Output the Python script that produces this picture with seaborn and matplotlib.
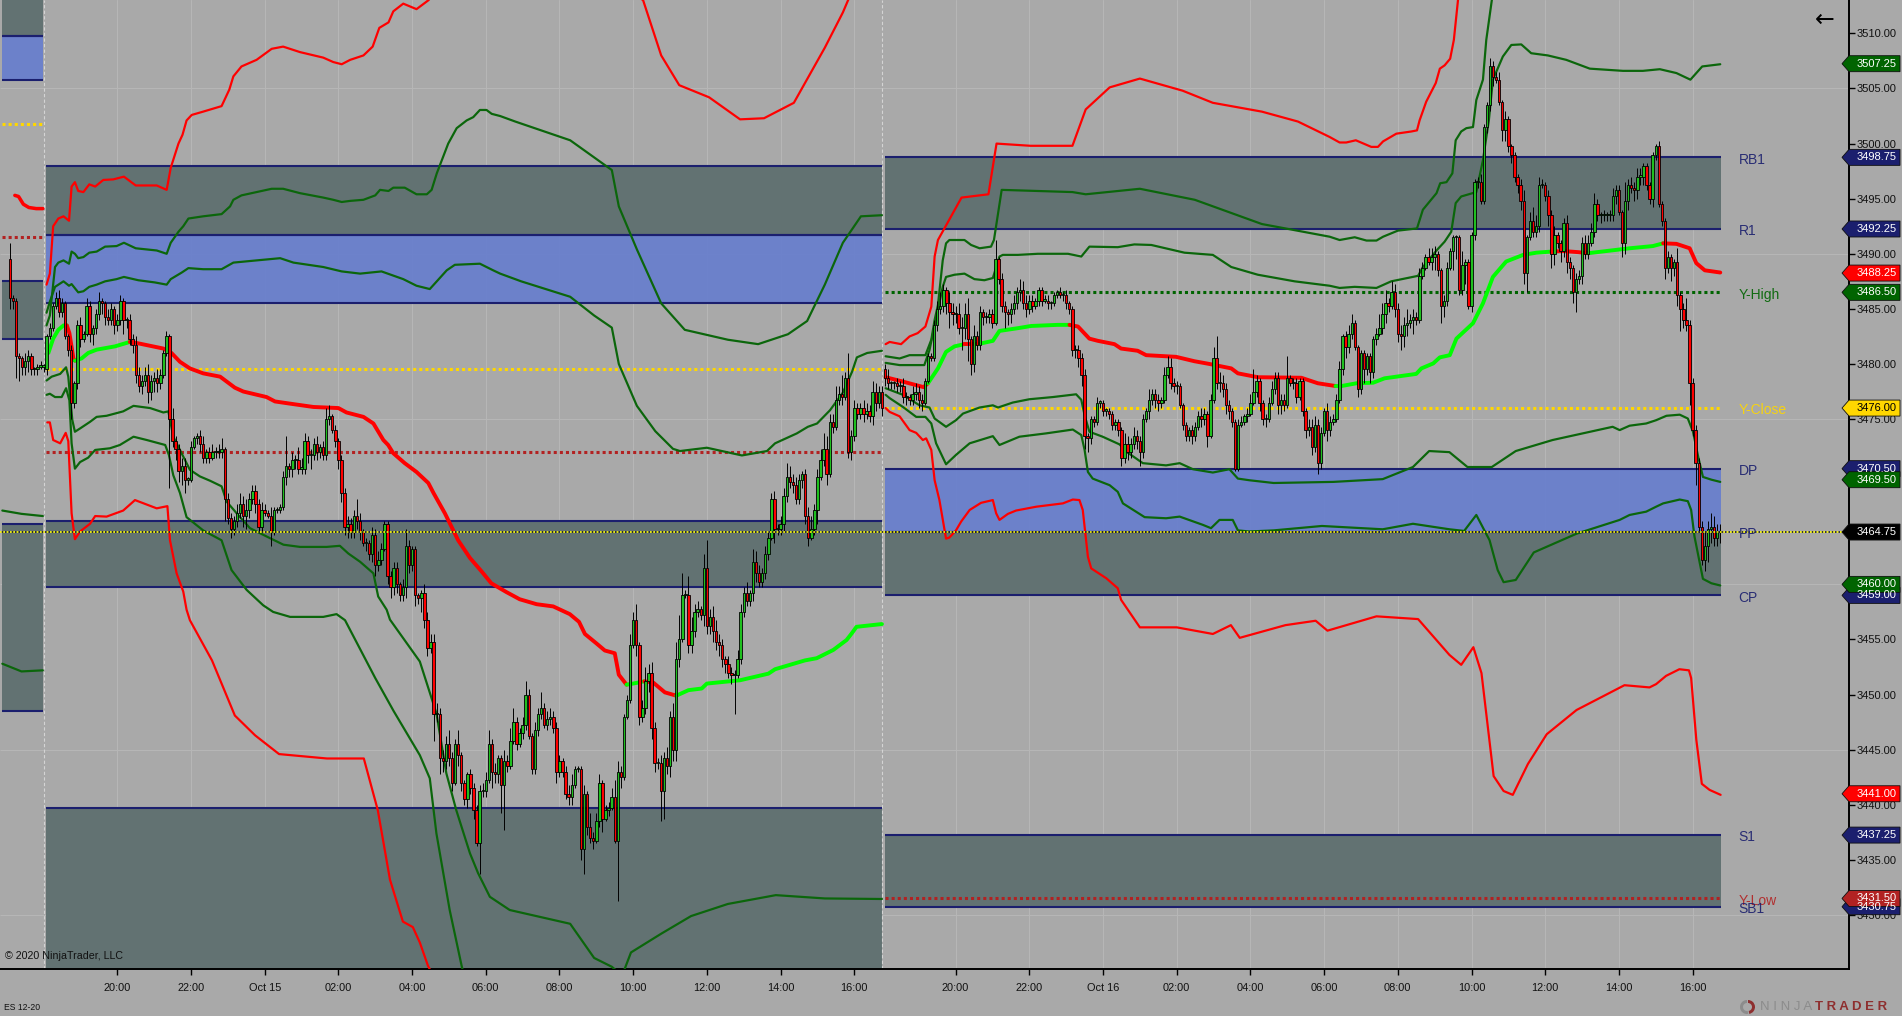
import numpy as np
import matplotlib
matplotlib.use('Agg')
import matplotlib.pyplot as plt
from matplotlib.patches import Polygon, Wedge
from matplotlib.transforms import blended_transform_factory, IdentityTransform
import seaborn as sns

# x axis is chart hours: 0 = 18:00 Oct 14, next session starts at 22.75 (bars are equidistant)
SESSION_2 = 22.75

# prior session, last 12 bars
prev_first_open = 3489.5
prev_close = [3486, 3485.75, 3480.75, 3480.5, 3479.75, 3480.25, 3480.75, 3479.5, 3479.5, 3479.75, 3479.75, 3479.75]
prev_up = [6, 1, 1, 1, 1, 3, 2, 1, 1, 1, 2, 1]
prev_dn = [4, 3, 8, 8, 3, 3, 4, 2, 2, 2, 1, 2]

# Oct 14/15 session, 5 min closes
left_first_open = 3479.5
left_close = [
    3482.5, 3483.25, 3485.25, 3486, 3484.75, 3485.5, 3482.5, 3481.25, 3476.5, 3478.25,
    3483.5, 3482.25, 3482.75, 3485.25, 3482.75, 3483.25, 3484.5, 3485.75, 3485.5, 3484.25,
    3484, 3485, 3483.5, 3484, 3485.75, 3484, 3484, 3482.25, 3481.75, 3479,
    3478, 3478.5, 3479, 3477.5, 3478.5, 3478.75, 3478.25, 3479, 3481, 3482.5,
    3475, 3473, 3472.25, 3470.25, 3470.75, 3469.5, 3469.5, 3472.5, 3473.25, 3473.5,
    3472.75, 3471.5, 3472, 3471.5, 3472, 3472, 3472, 3472.25, 3467.75, 3466,
    3465, 3465.75, 3466.5, 3467.25, 3466.25, 3466.75, 3467.75, 3468.5, 3467.25, 3465.25,
    3466.75, 3466.5, 3466.25, 3464.75, 3466.75, 3466.75, 3467, 3469.75, 3470.75, 3470.5,
    3471.25, 3471.25, 3470.5, 3470.5, 3473, 3471.75, 3471.75, 3472.75, 3472, 3472.5,
    3471.75, 3475, 3475.25, 3474, 3473, 3471.25, 3468.25, 3465.25, 3465.5, 3464.75,
    3466.25, 3465.75, 3464.75, 3463.75, 3463.75, 3462.75, 3464.5, 3461.75, 3462.25, 3463.25,
    3465.5, 3460.75, 3459.75, 3461.5, 3460, 3459, 3459.75, 3463.5, 3461.75, 3463.25,
    3459, 3458.75, 3459.25, 3456.75, 3454.25, 3454.75, 3448.25, 3448.25, 3444.25, 3444,
    3445.5, 3444.25, 3442, 3445.5, 3444.5, 3442, 3440.5, 3442.75, 3441.5, 3439.5,
    3436.5, 3441.25, 3441.25, 3442.25, 3445.5, 3443, 3442.75, 3444.25, 3441.75, 3444,
    3443.5, 3445.75, 3447.5, 3445.5, 3446.5, 3447.25, 3450, 3446.25, 3443.25, 3446.75,
    3448.25, 3448.75, 3447.25, 3447.75, 3448, 3447, 3443, 3444, 3443, 3441,
    3440.75, 3441.75, 3443.25, 3443.25, 3436, 3441, 3438, 3437, 3436.75, 3438.5,
    3442, 3438.75, 3439.5, 3439.75, 3440.75, 3436.75, 3443, 3442.5, 3448, 3449.5,
    3454.5, 3456.75, 3454.5, 3448, 3448.75, 3451.25, 3452, 3447, 3443.75, 3443.75,
    3441.25, 3444.25, 3443.5, 3448, 3445, 3453.25, 3455, 3459, 3459, 3454.5,
    3455.75, 3457.5, 3457.75, 3457.25, 3461.5, 3456.25, 3457, 3455.75, 3454.75, 3454.5,
    3453.25, 3452.75, 3452, 3451.75, 3451.75, 3453.25, 3457.5, 3459.25, 3458.5, 3459.25,
    3462, 3461, 3460.25, 3461, 3462.75, 3464.25, 3467.75, 3465, 3465, 3465.5,
    3468, 3469.75, 3469.25, 3469, 3467.75, 3469.5, 3470, 3466.25, 3464.25, 3465,
    3466.75, 3469.75, 3471.25, 3472.25, 3470, 3474.75, 3474.25, 3476.75, 3477.25, 3477,
    3478.75, 3472, 3473.5, 3476, 3475.5, 3476, 3475.5, 3475.75, 3475.25, 3477.5,
    3476.5, 3477.5, 3476]
# wicks in ticks (0.25) above / below the body
left_up = [
    1, 2, 1, 2, 3, 2, 1, 1, 2, 1, 2, 3, 1, 3, 2, 1, 2, 3, 1, 1,
    3, 2, 1, 2, 2, 1, 1, 2, 2, 3, 3, 2, 3, 4, 2, 2, 3, 2, 1, 2,
    1, 4, 2, 2, 3, 3, 1, 2, 1, 1, 2, 3, 1, 2, 3, 2, 3, 4, 1, 2,
    2, 2, 3, 4, 3, 4, 2, 2, 2, 2, 3, 2, 1, 3, 1, 1, 1, 2, 11, 1,
    3, 2, 5, 4, 3, 2, 2, 2, 3, 1, 2, 4, 4, 1, 2, 1, 2, 2, 3, 2,
    2, 6, 3, 1, 2, 1, 3, 2, 3, 2, 1, 1, 2, 2, 2, 1, 3, 6, 2, 1,
    1, 1, 1, 3, 3, 3, 3, 4, 2, 3, 3, 5, 2, 2, 5, 1, 1, 1, 2, 2,
    2, 2, 3, 3, 5, 2, 3, 1, 1, 4, 2, 5, 5, 2, 2, 3, 5, 2, 1, 3,
    2, 6, 2, 3, 3, 2, 2, 2, 1, 2, 3, 4, 1, 1, 1, 3, 1, 5, 2, 3,
    3, 1, 2, 2, 3, 6, 4, 2, 1, 2, 4, 3, 6, 1, 3, 5, 3, 4, 2, 2,
    3, 2, 4, 2, 5, 6, 9, 8, 2, 7, 5, 3, 3, 1, 5, 10, 3, 4, 4, 3,
    2, 1, 3, 2, 2, 3, 3, 2, 4, 1, 5, 4, 3, 2, 3, 2, 2, 3, 2, 3,
    3, 5, 4, 3, 3, 2, 1, 2, 3, 5, 2, 3, 4, 6, 5, 3, 3, 5, 3, 7,
    2, 9, 2, 3, 2, 2, 3, 3, 2, 4, 3, 2, 2]
left_dn = [
    2, 1, 1, 1, 2, 2, 1, 2, 6, 2, 2, 3, 1, 1, 3, 4, 2, 2, 4, 3,
    2, 2, 3, 2, 2, 5, 3, 2, 3, 3, 2, 3, 2, 4, 3, 4, 3, 2, 1, 1,
    25, 2, 4, 4, 5, 5, 2, 1, 1, 2, 3, 2, 2, 2, 1, 2, 2, 2, 8, 2,
    3, 2, 2, 2, 4, 5, 3, 2, 3, 2, 2, 1, 1, 5, 1, 1, 1, 1, 3, 3,
    3, 3, 2, 2, 2, 3, 5, 2, 3, 2, 2, 2, 2, 1, 2, 3, 3, 3, 4, 2,
    2, 3, 3, 1, 3, 2, 3, 4, 2, 2, 1, 3, 4, 3, 3, 2, 2, 4, 3, 2,
    4, 2, 5, 3, 3, 2, 10, 3, 6, 4, 3, 3, 3, 1, 4, 3, 2, 3, 2, 3,
    1, 11, 2, 2, 1, 6, 3, 3, 10, 16, 2, 1, 1, 2, 1, 2, 2, 1, 2, 2,
    2, 2, 1, 2, 2, 2, 4, 2, 2, 2, 3, 3, 1, 1, 4, 9, 3, 2, 3, 1,
    2, 5, 1, 2, 1, 1, 22, 4, 1, 1, 1, 1, 4, 3, 2, 2, 4, 4, 3, 2,
    11, 10, 3, 4, 4, 4, 3, 1, 1, 3, 3, 2, 2, 2, 4, 3, 3, 4, 3, 4,
    3, 3, 2, 3, 14, 1, 2, 2, 2, 2, 3, 3, 2, 2, 2, 2, 1, 5, 2, 2,
    3, 2, 2, 3, 2, 2, 3, 3, 3, 1, 2, 5, 1, 2, 4, 1, 2, 1, 2, 3,
    1, 2, 3, 2, 2, 2, 3, 2, 2, 3, 3, 2, 3]

# Oct 15/16 session
right_first_open = 3479.5
right_close = [
    3478.75, 3478.25, 3478.25, 3478.25, 3478, 3478, 3477, 3477, 3476.75, 3477.25,
    3477.5, 3476.75, 3476.5, 3478.5, 3480.75, 3480.5, 3483.5, 3485, 3485.25, 3486.75,
    3485.5, 3484.75, 3484.5, 3484.5, 3483.25, 3483.25, 3484.5, 3482.25, 3480, 3482.5,
    3481.75, 3484.75, 3484.25, 3484.25, 3484.5, 3483.75, 3489.5, 3487.75, 3485.25, 3484.75,
    3484.5, 3485, 3485.5, 3486.5, 3486.75, 3485.5, 3485, 3485.75, 3485.25, 3485.75,
    3486.75, 3485.75, 3485.75, 3485.5, 3485.5, 3486.25, 3486.5, 3486.25, 3486.25, 3485.5,
    3485, 3481.25, 3481.25, 3480.5, 3479, 3473.5, 3473.25, 3475, 3474.75, 3476.5,
    3476.5, 3475.75, 3475.75, 3475.5, 3474.5, 3474.75, 3474, 3471.5, 3472.75, 3472,
    3472.75, 3473.5, 3473, 3472, 3475, 3475.75, 3476.75, 3477.25, 3476.75, 3476.5,
    3476.75, 3479, 3479.75, 3478.25, 3478, 3478, 3476.25, 3474.5, 3473.5, 3474,
    3473.5, 3474.25, 3475.25, 3475, 3475.5, 3473.5, 3476.75, 3480.5, 3478.25, 3478.25,
    3477.75, 3476.25, 3475.75, 3474.75, 3470.5, 3474.5, 3474.75, 3475.25, 3475.5, 3476.5,
    3477.5, 3478.5, 3476.5, 3475, 3475, 3476.5, 3477.75, 3478.75, 3476.25, 3476.75,
    3476.25, 3478.75, 3478.25, 3478.25, 3477, 3478.5, 3475.75, 3474, 3474.25, 3472.5,
    3474.5, 3471, 3473.75, 3475.75, 3474, 3474.75, 3475, 3476.75, 3479.5, 3482.5,
    3481.5, 3482.75, 3483.75, 3481.5, 3477.75, 3481, 3479.5, 3480.75, 3479.25, 3482.25,
    3482.75, 3483.25, 3484.5, 3485.5, 3485.25, 3486.5, 3485, 3482.75, 3482.5, 3483.5,
    3483.75, 3484, 3484.25, 3484, 3488, 3488.75, 3489.75, 3489.25, 3489.75, 3490,
    3488.5, 3485.25, 3485.75, 3488.75, 3490.25, 3491.5, 3491.5, 3486.75, 3489, 3489.25,
    3485.25, 3491.75, 3496.5, 3496.5, 3494.75, 3501.5, 3503.5, 3507, 3506, 3505.75,
    3503.75, 3501.25, 3502.25, 3499.75, 3499, 3497, 3496.25, 3494.75, 3488.25, 3491.5,
    3493, 3492, 3492.5, 3496.25, 3496.25, 3495.25, 3493.5, 3490, 3491.75, 3491,
    3490.25, 3492.75, 3489.25, 3488.75, 3486.5, 3487.75, 3488, 3491, 3490, 3491,
    3492, 3494.5, 3493.5, 3493.5, 3493.5, 3493.5, 3493.5, 3495.25, 3495.75, 3493.75,
    3491, 3494.75, 3496.25, 3496, 3495.75, 3497, 3497, 3498, 3496.25, 3495,
    3499, 3499.75, 3494.5, 3493, 3488.75, 3489.75, 3488.75, 3489.25, 3486.25, 3485,
    3484, 3483.5, 3478.25, 3474, 3471, 3465.25, 3462.25, 3463.5, 3465, 3465.25,
    3464.25, 3464.75, 3464.75]
right_up = [
    2, 3, 1, 1, 2, 2, 3, 2, 1, 3, 3, 2, 2, 1, 1, 1, 2, 3, 5, 2,
    1, 4, 3, 3, 4, 4, 4, 6, 1, 4, 2, 2, 1, 2, 2, 2, 7, 1, 2, 2,
    1, 2, 3, 2, 4, 3, 3, 2, 2, 1, 1, 1, 2, 2, 1, 1, 1, 2, 1, 2,
    1, 1, 2, 2, 2, 2, 1, 1, 1, 2, 1, 1, 1, 1, 1, 1, 1, 1, 4, 3,
    2, 3, 2, 2, 2, 1, 4, 2, 2, 2, 1, 3, 4, 3, 2, 2, 1, 1, 1, 1,
    2, 2, 2, 3, 2, 1, 2, 4, 8, 4, 3, 2, 2, 1, 1, 2, 2, 1, 2, 3,
    8, 2, 1, 1, 2, 2, 3, 2, 2, 2, 2, 8, 1, 2, 2, 1, 1, 1, 3, 3,
    3, 2, 2, 1, 3, 2, 2, 2, 3, 1, 2, 3, 3, 1, 1, 1, 1, 1, 1, 1,
    2, 5, 4, 5, 2, 4, 3, 2, 3, 3, 5, 2, 3, 2, 3, 2, 1, 3, 3, 3,
    1, 1, 2, 2, 1, 1, 1, 1, 5, 1, 1, 1, 1, 2, 3, 1, 1, 3, 2, 2,
    3, 1, 3, 1, 1, 1, 1, 2, 4, 1, 3, 5, 4, 3, 2, 1, 2, 2, 3, 1,
    1, 2, 3, 2, 1, 2, 2, 2, 3, 3, 3, 4, 2, 1, 2, 1, 2, 3, 2, 2,
    1, 7, 2, 3, 2, 3, 3, 1, 1, 1, 1, 1, 2, 1, 1, 2, 1, 1, 5, 1,
    2, 8, 2, 2, 2, 2, 2, 5, 3, 5, 4, 3, 3]
right_dn = [
    3, 2, 2, 2, 2, 2, 2, 3, 2, 2, 2, 3, 3, 1, 1, 1, 1, 2, 2, 2,
    4, 6, 4, 3, 2, 8, 4, 8, 4, 3, 2, 2, 3, 2, 2, 2, 1, 2, 2, 6,
    4, 3, 2, 2, 3, 2, 3, 2, 2, 1, 2, 2, 1, 2, 2, 1, 1, 1, 2, 2,
    2, 2, 3, 3, 4, 5, 5, 2, 2, 1, 2, 2, 2, 2, 2, 2, 2, 3, 2, 3,
    2, 2, 3, 5, 2, 1, 3, 2, 3, 3, 2, 1, 1, 2, 2, 3, 1, 2, 2, 2,
    3, 2, 1, 3, 2, 4, 1, 1, 2, 3, 3, 3, 3, 2, 1, 1, 1, 1, 2, 1,
    1, 2, 3, 2, 3, 1, 1, 2, 3, 3, 2, 1, 1, 2, 2, 1, 2, 3, 2, 3,
    2, 4, 2, 1, 4, 2, 1, 1, 1, 2, 4, 2, 2, 1, 3, 2, 5, 2, 4, 2,
    2, 1, 2, 3, 2, 1, 3, 3, 5, 4, 4, 2, 5, 2, 1, 1, 1, 1, 3, 5,
    2, 6, 4, 2, 1, 7, 8, 2, 2, 7, 1, 2, 2, 2, 1, 1, 2, 2, 3, 1,
    1, 4, 4, 2, 3, 2, 3, 3, 4, 7, 1, 2, 2, 2, 1, 2, 4, 5, 4, 2,
    4, 2, 4, 4, 4, 7, 2, 3, 2, 2, 1, 2, 2, 3, 2, 2, 2, 2, 3, 1,
    5, 4, 3, 2, 4, 3, 3, 3, 2, 2, 3, 2, 1, 2, 4, 2, 5, 3, 4, 8,
    3, 2, 8, 2, 8, 2, 2, 4, 6, 5, 3, 3, 4]

# VWAP left session
a_vwap_h = [0.13, 0.26, 0.4, 0.54, 0.63, 0.7, 0.81, 0.85, 1.03, 1.21, 1.44, 1.94, 2.34, 2.53, 3.25, 3.47, 3.7, 3.97, 4.33, 4.79, 4.97, 5.19, 5.42, 6.05, 6.28, 6.69, 7.32, 8, 8.22, 8.68, 8.95, 9.22, 9.35, 9.49, 9.8, 10.12, 10.44, 10.58, 10.89, 11.25, 11.57, 11.88, 12.15, 12.56, 12.92, 13.38, 13.83, 14.28, 14.53, 14.69, 15, 15.23, 15.5, 15.61, 15.82, 16, 16.3, 16.54, 16.86, 17.17, 17.5, 17.86, 18, 18.9, 19.67, 19.85, 20.66, 20.98, 21.43, 21.79, 21.93, 22.06, 22.75]
a_vwap_p = [3481, 3482.3, 3483.1, 3483.5, 3483.5, 3482.8, 3480.5, 3480.3, 3480.5, 3481, 3481.3, 3481.6, 3482, 3481.9, 3481.4, 3481, 3480.2, 3479.6, 3479.15, 3478.85, 3478.4, 3477.85, 3477.5, 3477, 3476.6, 3476.4, 3476.1, 3476, 3475.6, 3475.2, 3474.6, 3473.1, 3472.65, 3471.9, 3471, 3470.2, 3469.2, 3468.3, 3466.45, 3464, 3462.4, 3461.2, 3460.1, 3459.3, 3458.65, 3458.2, 3458, 3457.3, 3456.6, 3455.5, 3454.65, 3454, 3453.75, 3451.8, 3450.9, 3451, 3451.2, 3451.1, 3450.2, 3449.9, 3450.4, 3450.55, 3451, 3451.3, 3451.9, 3452.3, 3453.1, 3453.3, 3454.05, 3454.95, 3455.55, 3456.15, 3456.4]
a_vwap_breaks = [0.13, 0.63, 0.85, 2.34, 15.82, 16.3, 17.17, 22.75]
a_vwap_up = [True, False, True, False, True, False, True]

# std bands left session
a_u1_h = [0.08, 0.17, 0.31, 0.54, 0.69, 0.76, 0.94, 1.08, 1.24, 1.44, 1.67, 1.98, 2.18, 2.57, 3.02, 3.34, 3.45, 3.75, 3.93, 4.33, 4.83, 5.15, 5.78, 6.42, 6.78, 7.59, 8.09, 8.59, 9.17, 9.76, 10.12, 10.48, 10.67, 10.94, 11.16, 11.84, 12.2, 12.39, 12.96, 14.29, 14.94, 15.42, 15.61, 16.1, 16.6, 17.08, 17.27, 18, 18.95, 19.63, 19.85, 20.44, 20.74, 20.99, 21.34, 21.69, 21.94, 22.07, 22.35, 22.75]
a_u1_p = [3484.65, 3485.65, 3487, 3487.5, 3487.1, 3487.25, 3486.5, 3486.6, 3487, 3487.2, 3487.5, 3487.7, 3487.9, 3487.6, 3487.4, 3487.2, 3487.7, 3488.3, 3488.7, 3488.6, 3488.6, 3489.2, 3489.4, 3489.6, 3489.2, 3488.8, 3488.4, 3488.2, 3488.4, 3487.7, 3487.1, 3486.8, 3487.5, 3488.5, 3489, 3489.1, 3488.5, 3488.2, 3487.5, 3486.1, 3484.4, 3483.3, 3480, 3476.2, 3473.9, 3472.3, 3472.1, 3472.4, 3471.7, 3472.1, 3472.8, 3473.7, 3474.3, 3474.6, 3475.8, 3477.4, 3479.3, 3480.6, 3481, 3481.2]
a_u2_h = [0.08, 0.17, 0.31, 0.4, 0.54, 0.69, 0.76, 0.85, 0.94, 1.08, 1.24, 1.44, 1.67, 1.98, 2.18, 2.5, 3.07, 3.34, 3.45, 3.66, 3.79, 3.93, 4.33, 4.83, 5.06, 5.15, 5.37, 5.78, 6.19, 6.5, 6.96, 7.59, 7.86, 8.09, 8.32, 8.68, 9, 9.13, 9.36, 9.49, 9.8, 10.12, 10.4, 10.53, 10.67, 10.98, 11.21, 11.48, 11.66, 11.84, 12.02, 12.16, 12.39, 12.8, 14.29, 15.42, 15.61, 16.1, 16.76, 17.4, 18.57, 19.39, 20.2, 20.72, 21.2, 21.69, 22.18, 22.75]
a_u2_p = [3483.5, 3484.4, 3488.8, 3489.2, 3489.4, 3489.1, 3490.2, 3490, 3489.6, 3489.7, 3490.1, 3490.2, 3490.65, 3490.7, 3491, 3490.5, 3490.3, 3490, 3491, 3492, 3492.5, 3493.2, 3493.4, 3493.6, 3494.3, 3494.9, 3495.3, 3495.6, 3495.9, 3495.9, 3495.5, 3495.1, 3494.9, 3494.7, 3494.8, 3494.9, 3495.3, 3495.8, 3495.7, 3496, 3496, 3495.4, 3495.4, 3495.8, 3497.3, 3500, 3501.4, 3502.1, 3502.4, 3503.05, 3503.05, 3502.7, 3502.5, 3502, 3500.3, 3497.6, 3494.3, 3490.4, 3485.5, 3483.1, 3482.2, 3481.8, 3482.7, 3483.9, 3487.2, 3491, 3493.4, 3493.5]
a_u3_h = [0.08, 0.17, 0.26, 0.4, 0.54, 0.69, 0.76, 0.85, 0.94, 1.08, 1.24, 1.4, 1.62, 1.89, 2.18, 2.5, 3.07, 3.34, 3.45, 3.66, 3.77, 3.88, 4.02, 4.33, 4.83, 5.04, 5.15, 5.37, 5.78, 6.19, 6.5, 6.96, 7.59, 7.86, 8.09, 8.32, 8.68, 8.93, 9.11, 9.36, 9.49, 9.76, 10.12, 10.44, 13, 16.27, 16.76, 17.25, 18.06, 18.9, 19.55, 20.36, 21.2, 21.69, 21.83, 22.75]
a_u3_p = [3487.2, 3488.2, 3492.5, 3493.2, 3493.4, 3493, 3496.1, 3496.5, 3495.7, 3495.6, 3496.3, 3496.1, 3496.7, 3496.75, 3497, 3496.2, 3496.2, 3495.8, 3497.8, 3500, 3500.8, 3502.1, 3502.6, 3502.9, 3503.4, 3504.9, 3506.1, 3507, 3507.6, 3508.6, 3508.8, 3508.3, 3507.8, 3507.4, 3507.2, 3507.6, 3508, 3508.8, 3510.5, 3511, 3512, 3512.7, 3512.2, 3513, 3522, 3513, 3508, 3505.3, 3504.2, 3502.2, 3502.3, 3503.7, 3508.7, 3511.9, 3513, 3520]
a_l1_h = [0.08, 0.22, 0.45, 0.61, 0.67, 0.72, 0.78, 0.85, 0.99, 1.26, 1.44, 1.71, 2.16, 2.44, 2.89, 3.25, 3.385, 3.52, 3.7, 3.97, 4.24, 4.52, 4.83, 4.97, 5.24, 5.6, 6.14, 6.51, 6.96, 7.68, 8.04, 8.27, 8.59, 8.95, 9.08, 9.31, 9.4, 10.21, 10.66, 10.93, 11.2, 11.57, 11.79, 12.11, 12.65, 14.29, 14.94, 15.42, 15.7, 15.94, 16.76, 17.57, 18.57, 19.87, 21.2, 22.75]
a_l1_p = [3478.5, 3478.85, 3479.1, 3479.7, 3478.85, 3477, 3474.9, 3473.85, 3474.15, 3474.75, 3475.2, 3475.3, 3475.7, 3476.2, 3476, 3475.6, 3475.7, 3473.4, 3472.2, 3470.4, 3469.8, 3469.4, 3468.9, 3467.5, 3466.45, 3465.1, 3464.2, 3463.6, 3463.4, 3463.4, 3463.5, 3462.8, 3462.05, 3461, 3458.9, 3457.7, 3456.8, 3453, 3448.3, 3442.85, 3439.5, 3435.6, 3433.8, 3431.65, 3430.45, 3429.2, 3426.1, 3425.3, 3424.5, 3426.6, 3428.3, 3429.9, 3431, 3431.8, 3431.5, 3431.45]
a_l2_h = [0.08, 0.17, 0.31, 0.49, 0.61, 0.7, 0.76, 0.85, 0.99, 1.21, 1.4, 1.8, 2.07, 2.44, 2.8, 3.3, 3.4, 3.52, 3.7, 3.88, 4.33, 4.83, 5.1, 5.51, 5.96, 6.23, 6.69, 7.59, 7.95, 8.18, 9, 9.5, 10.21, 10.48, 10.66, 10.8, 11.02, 11.35, 12]
a_l2_p = [3477.2, 3477.3, 3477, 3477, 3477.8, 3476.7, 3472.8, 3470.5, 3471.1, 3471.5, 3472.2, 3472.35, 3472.65, 3473.4, 3473.1, 3472.65, 3471.75, 3469.9, 3468.3, 3466.1, 3464.9, 3464, 3461.3, 3459.5, 3458.1, 3457.5, 3457.05, 3457.05, 3457.3, 3456.75, 3451.5, 3448.5, 3444.5, 3442.4, 3437.4, 3434.7, 3430.45, 3425.3, 3418]
a_l3_h = [0.1, 0.17, 0.26, 0.45, 0.6, 0.67, 0.76, 0.85, 0.99, 1.26, 1.4, 1.71, 2.16, 2.48, 3.07, 3.36, 3.43, 3.61, 3.79, 3.88, 3.97, 4.57, 5.19, 5.74, 6.39, 7.69, 8.69, 9.07, 9.4, 9.75, 10.02, 10.21, 10.43, 12]
a_l3_p = [3474.7, 3474.7, 3473.1, 3472.8, 3473.75, 3473, 3466.45, 3464.1, 3464.8, 3465.5, 3466.2, 3466.15, 3466.7, 3467.65, 3466.9, 3467.1, 3464, 3461, 3459.35, 3457.7, 3456.75, 3453.1, 3448.1, 3446.3, 3444.6, 3444.2, 3444.2, 3439.5, 3433.2, 3429.4, 3428.9, 3427.5, 3425.4, 3415]

# VWAP right session
b_vwap_h = [22.85, 23.32, 23.88, 24, 24.27, 24.49, 24.72, 24.99, 25.35, 25.76, 25.94, 26.44, 26.8, 27.52, 27.84, 28.07, 28.38, 28.61, 29.06, 29.24, 29.69, 29.92, 30.73, 31.23, 31.64, 32.23, 32.41, 32.95, 34.13, 34.58, 35.06, 35.22, 35.63, 36.08, 36.39, 37.25, 37.39, 37.71, 37.89, 38.16, 38.34, 38.79, 39.06, 39.33, 39.69, 40.15, 40.51, 40.92, 41.23, 41.64, 41.91, 43.04, 43.67, 43.95, 44.31, 44.67, 44.85, 45.08, 45.5]
b_vwap_p = [3478.8, 3478.4, 3477.9, 3478.25, 3479.6, 3481.1, 3481.6, 3481.8, 3481.8, 3482.1, 3483, 3483.25, 3483.45, 3483.55, 3483.55, 3483.4, 3482.3, 3482.1, 3481.8, 3481.4, 3481.2, 3480.8, 3480.65, 3480.25, 3480, 3479.6, 3479.15, 3478.8, 3478.75, 3478.25, 3478, 3478, 3478.25, 3478.3, 3478.7, 3479.1, 3479.6, 3480.05, 3480.6, 3480.8, 3482.3, 3483.7, 3485.5, 3487.9, 3489.3, 3489.9, 3490.1, 3490.2, 3490.25, 3490.15, 3490.05, 3490.5, 3490.7, 3490.95, 3490.9, 3490.5, 3489.15, 3488.5, 3488.3]
b_vwap_breaks = [22.85, 24, 24.99, 25.35, 27.84, 35.06, 40.92, 41.91, 43.95, 45.5]
b_vwap_up = [False, True, False, True, False, True, False, True, False]

# std bands right session
b_u1_h = [22.85, 23.23, 23.9, 24.04, 24.27, 24.4, 24.49, 24.72, 24.99, 25.26, 25.53, 25.76, 25.94, 26.03, 26.44, 26.98, 27.8, 28.16, 28.38, 29.15, 29.6, 30.06, 30.96, 31.73, 32.23, 32.95, 33.95, 34.9, 35.17, 35.58, 36.17, 36.57, 37.3, 37.43, 37.8, 38.02, 38.2, 38.32, 38.47, 38.88, 39.06, 39.22, 39.33, 39.6, 39.83, 40.1, 40.37, 40.82, 41.32, 41.96, 42.86, 43.4, 43.86, 44.31, 44.69, 45.01, 45.5]
b_u1_p = [3480.1, 3479.9, 3479.9, 3481.25, 3484.9, 3487, 3487.9, 3488.1, 3488.2, 3487.7, 3487.6, 3487.8, 3489.75, 3489.9, 3489.9, 3490, 3490, 3489.75, 3490.65, 3490.6, 3490.85, 3490.8, 3490.1, 3489.9, 3488.8, 3488.1, 3487.5, 3487.1, 3486.9, 3487, 3486.9, 3487.5, 3488, 3488.8, 3490.3, 3491.1, 3492, 3494.6, 3495.2, 3495.6, 3498.5, 3502.1, 3505.8, 3507.9, 3508.95, 3509, 3508.2, 3508, 3507.6, 3506.8, 3506.6, 3506.6, 3506.75, 3506.4, 3505.8, 3507, 3507.2]
b_u2_h = [22.85, 23.23, 23.5, 23.93, 24.09, 24.18, 24.27, 24.4, 24.49, 24.58, 24.99, 25.17, 25.4, 25.71, 25.79, 26, 27.92, 28.28, 29.75, 31.24, 33.06, 34.9, 35.17, 35.58, 35.9, 36.17, 36.35, 36.75, 37.27, 37.43, 37.8, 37.9, 38.07, 38.23, 38.32, 38.47, 38.61, 38.79, 38.88, 39.06, 39.15, 39.8]
b_u2_p = [3480.7, 3480.5, 3480.8, 3480.8, 3482.2, 3484, 3485.35, 3489.4, 3490.95, 3491.25, 3491.25, 3490.8, 3490.5, 3490.65, 3491.25, 3495.8, 3495.6, 3495.4, 3495.9, 3494.9, 3492.7, 3491.55, 3491.25, 3491.5, 3491.2, 3491.2, 3491.55, 3492.1, 3492.3, 3494, 3495.5, 3496.4, 3496.5, 3497.3, 3500.3, 3501.1, 3501.4, 3501.5, 3503.95, 3505.8, 3509.4, 3525]
b_u3_h = [22.85, 22.96, 23.27, 23.5, 23.72, 23.93, 24.09, 24.18, 24.27, 24.42, 24.91, 25.64, 25.86, 26.78, 27.92, 28.28, 28.93, 29.75, 30.91, 31.73, 33.06, 34.04, 34.9, 35.17, 35.35, 35.61, 36.03, 36.21, 36.35, 36.71, 37.12, 37.27, 37.34, 37.52, 37.78, 37.89, 38.02, 38.17, 38.27, 38.6]
b_u3_p = [3481.8, 3482, 3481.8, 3482.5, 3482.8, 3483.4, 3485.2, 3489.75, 3491.25, 3492.15, 3495.1, 3495.4, 3500, 3499.8, 3499.8, 3503.1, 3505.1, 3505.9, 3504.8, 3503.7, 3502.9, 3502, 3500.6, 3500.1, 3500.1, 3500.3, 3499.7, 3499.7, 3500.2, 3500.9, 3501.1, 3501.2, 3502.1, 3503.8, 3505.5, 3506.8, 3507.1, 3507.7, 3509.4, 3520]
b_l1_h = [22.85, 23.32, 23.77, 24.04, 24.18, 24.49, 24.76, 24.95, 25.4, 25.76, 25.9, 26.3, 26.75, 27.39, 28.02, 28.16, 28.25, 28.38, 28.74, 29.2, 29.38, 29.83, 30.46, 30.83, 31.19, 31.73, 32.18, 32.41, 32.72, 33.38, 35, 36.34, 37.16, 37.6, 38.15, 38.64, 39.3, 39.95, 40.95, 42.58, 42.77, 43.04, 43.49, 43.76, 44.04, 44.4, 44.62, 44.76, 44.9, 45.03, 45.26, 45.5]
b_l1_p = [3477.8, 3477.2, 3476.25, 3476.05, 3475.05, 3474.3, 3474.9, 3475.5, 3476.05, 3476.25, 3476.05, 3476.5, 3476.8, 3477, 3477.25, 3476.75, 3475.35, 3473.85, 3473.4, 3472.7, 3472.05, 3471, 3470.8, 3471, 3470.45, 3470.15, 3470.45, 3469.6, 3469.45, 3469.2, 3469.3, 3469.55, 3470.65, 3472.1, 3472, 3470.65, 3470.65, 3472.1, 3473.1, 3474.3, 3474, 3474.4, 3474.6, 3474.9, 3475.3, 3475.4, 3475.05, 3473.85, 3471.6, 3469.75, 3469.5, 3469.3]
b_l2_h = [22.85, 22.96, 23.32, 23.68, 23.93, 24.09, 24.22, 24.49, 24.76, 25.13, 25.76, 25.94, 26.48, 27.2, 27.93, 28.16, 28.25, 28.34, 28.47, 28.93, 29.15, 29.29, 29.88, 30.46, 30.83, 31.46, 31.68, 31.91, 32.27, 32.41, 32.72, 33.38, 34.69, 36.34, 37.16, 38.15, 38.55, 38.88, 39.24, 39.46, 39.62, 39.95, 40.44, 41.6, 42.77, 43.04, 43.49, 43.76, 43.95, 44.4, 44.62, 44.71, 44.8, 45.03, 45.26, 45.5]
b_l2_p = [3477.2, 3476.9, 3476.1, 3475.2, 3475.2, 3474.6, 3472.8, 3470.9, 3471.75, 3472.8, 3473.45, 3472.65, 3473.4, 3473.7, 3474.05, 3473.55, 3472.2, 3470.2, 3469.6, 3469, 3468.4, 3467.35, 3466.1, 3466, 3466.15, 3465.4, 3465.1, 3465.85, 3465.85, 3464.9, 3464.8, 3464.9, 3465.3, 3465, 3465.5, 3465, 3464.85, 3466.3, 3464, 3461.3, 3460.2, 3460.4, 3462.9, 3464.6, 3465.85, 3466.3, 3466.6, 3467.05, 3467.35, 3467.7, 3467.55, 3466.75, 3464.35, 3460.5, 3460.1, 3459.9]
b_l3_h = [22.85, 22.96, 23.23, 23.5, 23.68, 23.86, 23.95, 24.09, 24.18, 24.31, 24.49, 24.58, 24.76, 24.9, 25.13, 25.44, 25.76, 25.85, 25.94, 26.17, 26.39, 26.94, 27.66, 27.93, 28.11, 28.2, 28.34, 28.43, 28.84, 29.15, 29.24, 29.75, 30.75, 31.73, 32.22, 32.46, 33.7, 34.52, 34.84, 36.17, 37.3, 38.15, 38.47, 38.8, 39.02, 39.35, 39.62, 39.87, 40.28, 40.79, 41.6, 42.9, 43.58, 43.76, 44.03, 44.39, 44.65, 44.71, 44.85, 45, 45.21, 45.51]
b_l3_p = [3476, 3475.65, 3475.25, 3474, 3473.75, 3473.1, 3473.25, 3472.2, 3469.45, 3467.65, 3464.15, 3464.25, 3464.9, 3465.7, 3466.75, 3467.4, 3467.65, 3466.45, 3465.85, 3466.4, 3466.7, 3467.05, 3467.35, 3467.7, 3467.65, 3466.75, 3462.5, 3461.45, 3460.55, 3459.65, 3458.6, 3456.1, 3456.1, 3455.5, 3456.3, 3455.15, 3456.3, 3456.7, 3455.8, 3457.1, 3456.85, 3453.6, 3452.7, 3454.3, 3451.95, 3442.6, 3441.25, 3440.9, 3443.7, 3446.4, 3448.6, 3450.85, 3450.65, 3450.95, 3451.7, 3452.3, 3452.2, 3451.5, 3445.9, 3441.9, 3441.35, 3440.9]

# prior session bits still in view
prev_red_h = [-0.78, -0.68, -0.55, -0.4, -0.2, -0.02]
prev_red_p = [3495.3, 3495.2, 3494.5, 3494.2, 3494.1, 3494.1]
prev_green_a_h = [-1.12, -0.6, -0.02]
prev_green_a_p = [3466.7, 3466.4, 3466.2]
prev_green_b_h = [-1.12, -0.6, -0.02]
prev_green_b_p = [3452.8, 3452.1, 3452.2]

# pivot zones: session start, session end, low, high, colour key
zone_start = [-1.13, -1.13, -1.13, -1.13, 0.07, 0.07, 0.07, 0.07, 22.82, 22.82, 22.82, 22.82]
zone_end = [-0.02, -0.02, -0.02, -0.02, 22.75, 22.75, 22.75, 22.75, 45.51, 45.51, 45.51, 45.51]
zone_low = [3509.75, 3505.75, 3482.25, 3448.5, 3491.75, 3485.5, 3459.75, 3420, 3492.25, 3464.75, 3459, 3430.75]
zone_high = [3520, 3509.75, 3487.5, 3465.5, 3498, 3491.75, 3465.75, 3439.75, 3498.75, 3470.5, 3464.75, 3437.25]
zone_kind = ['grey', 'blue', 'grey', 'grey', 'grey', 'blue', 'grey', 'grey', 'grey', 'blue', 'grey', 'grey']

# dotted levels
dot_start = [-1.13, -1.13, 0.07, 0.07, 22.82, 22.82, 22.82]
dot_end = [-0.02, -0.02, 22.75, 22.75, 45.51, 45.51, 45.51]
dot_price = [3501.75, 3491.5, 3479.5, 3472, 3486.5, 3476, 3431.5]
dot_color = ['#FFD700', '#B22222', '#FFD700', '#B22222', '#006400', '#FFD700', '#B22222']

# right margin labels
level_names = ['RB1', 'R1', 'Y-High', 'Y-Close', 'DP', 'PP', 'CP', 'S1', 'Y-Low', 'SB1']
level_prices = [3498.75, 3492.25, 3486.5, 3476, 3470.5, 3464.75, 3459, 3437.25, 3431.5, 3430.75]
level_colors = ['#1B1F6E', '#1B1F6E', '#006400', '#FFD700', '#1B1F6E', '#1B1F6E', '#1B1F6E', '#1B1F6E', '#B22222', '#1B1F6E']

# price markers on the axis, later ones sit on top
tag_prices = [3470.5, 3459, 3430.75, 3498.75, 3492.25, 3437.25, 3507.25, 3488.25, 3486.5, 3469.5, 3476, 3464.75, 3460, 3441, 3431.5]
tag_fill = ['#1B1F6E', '#1B1F6E', '#1B1F6E', '#1B1F6E', '#1B1F6E', '#1B1F6E', '#006400', '#FF0000', '#006400', '#006400', '#FFD700', '#000000', '#006400', '#FF0000', '#B22222']
tag_text = ['white'] * 10 + ['black'] + ['white'] * 4

x_ticks = [2, 4, 6, 8, 10, 12, 14, 16, 18, 20, 22, 24.75, 26.75, 28.75, 30.75, 32.75, 34.75, 36.75, 38.75, 40.75, 42.75, 44.75]
x_labels = ['20:00', '22:00', 'Oct 15', '02:00', '04:00', '06:00', '08:00', '10:00', '12:00', '14:00', '16:00',
            '20:00', '22:00', 'Oct 16', '02:00', '04:00', '06:00', '08:00', '10:00', '12:00', '14:00', '16:00']
y_ticks = list(range(3430, 3511, 5))
# the platform only draws a grid line on every third price tick
y_grid = [3430, 3445, 3460, 3475, 3490, 3505]

BG = '#A9A9A9'
GRID = '#B6B6B6'
NAVY = '#1B1F6E'
ZONE_COL = {'grey': '#5F7070', 'blue': '#6A80CC'}
BAND_GREEN = '#0B660B'
W, H = 1902, 1016

sns.set_theme(style='darkgrid', rc={'axes.facecolor': BG, 'figure.facecolor': BG, 'grid.color': GRID,
                                    'grid.linewidth': 0.8, 'axes.edgecolor': 'black'})
plt.rcParams['font.family'] = ['Liberation Sans', 'DejaVu Sans']

fig = plt.figure(figsize=(W / 100, H / 100), dpi=100)
ax = fig.add_axes([0, (H - 969.3) / H, 1848.5 / W, 969.3 / H])
ax.set_xlim(-1.183, 48.98)
ax.set_ylim(3425.07, 3513.03)
ax.set_axisbelow(True)


def draw_candles(hours, first_open, closes, up, dn):
    closes = np.array(closes, dtype=float)
    opens = np.r_[first_open, closes[:-1]]
    top = np.maximum(opens, closes)
    bot = np.minimum(opens, closes)
    ax.vlines(hours, bot - np.array(dn) * 0.25, top + np.array(up) * 0.25, color='black', lw=0.7, zorder=5)
    colors = ['#1FC01F' if c >= o else '#FF0000' for o, c in zip(opens, closes)]
    ax.bar(hours, np.maximum(top - bot, 0.12), bottom=bot, width=0.066, color=colors,
           edgecolor='black', linewidth=0.6, zorder=6)


def band(h, p, color, px):
    sns.lineplot(x=h, y=p, color=color, linewidth=px * 0.72, estimator=None, sort=False, ax=ax, zorder=4)


def vwap(h, p, breaks, is_up):
    h = np.array(h)
    p = np.array(p)
    for i, up in enumerate(is_up):
        keep = (h >= breaks[i]) & (h <= breaks[i + 1])
        band(h[keep], p[keep], '#00FF00' if up else '#FF0000', 3.9)


ax.hlines(y_grid, -1.183, 48.98, color=GRID, lw=0.8, zorder=1)

for a, b, lo, hi, kind in zip(zone_start, zone_end, zone_low, zone_high, zone_kind):
    ax.fill_between([a, b], lo, hi, color=ZONE_COL[kind], alpha=0.96, lw=0, zorder=2)
    for lvl in (lo, hi):
        if 3425.07 < lvl < 3513.03:
            ax.hlines(lvl, a, b, color=NAVY, lw=1.5, zorder=3)

# session breaks
for s in (0, SESSION_2):
    ax.axvline(s, color='#D4D4D4', lw=0.8, ls=(0, (3, 2)), zorder=2.5)

for a, b, p, c in zip(dot_start, dot_end, dot_price, dot_color):
    ax.hlines(p, a, b, color=c, lw=2.2, linestyles=[(0, (1, 1))], zorder=4)

for h, p, c, w in [(a_u3_h, a_u3_p, '#FF0000', 2.2), (a_l3_h, a_l3_p, '#FF0000', 2.2),
                   (a_u2_h, a_u2_p, BAND_GREEN, 2.2), (a_u1_h, a_u1_p, BAND_GREEN, 2.2),
                   (a_l1_h, a_l1_p, BAND_GREEN, 2.2), (a_l2_h, a_l2_p, BAND_GREEN, 2.2),
                   (b_u3_h, b_u3_p, '#FF0000', 2.2), (b_l3_h, b_l3_p, '#FF0000', 2.2),
                   (b_u2_h, b_u2_p, BAND_GREEN, 2.2), (b_u1_h, b_u1_p, BAND_GREEN, 2.2),
                   (b_l1_h, b_l1_p, BAND_GREEN, 2.2), (b_l2_h, b_l2_p, BAND_GREEN, 2.2),
                   (prev_red_h, prev_red_p, '#FF0000', 3.5), (prev_green_a_h, prev_green_a_p, BAND_GREEN, 2.2),
                   (prev_green_b_h, prev_green_b_p, BAND_GREEN, 2.2)]:
    band(h, p, c, w)
vwap(a_vwap_h, a_vwap_p, a_vwap_breaks, a_vwap_up)
vwap(b_vwap_h, b_vwap_p, b_vwap_breaks, b_vwap_up)

draw_candles((np.arange(len(prev_close)) - 11) / 12, prev_first_open, prev_close, prev_up, prev_dn)
draw_candles((np.arange(len(left_close)) + 1) / 12, left_first_open, left_close, left_up, left_dn)
draw_candles(SESSION_2 + (np.arange(len(right_close)) + 1) / 12, right_first_open, right_close, right_up, right_dn)

# current price line, yellow on black dots
ax.plot([-1.183, 48.98], [3464.75, 3464.75], color='#FFFF00', lw=1.2, ls=(0, (1, 1)), gapcolor='#202020', zorder=7)

# axes furniture
ax.yaxis.tick_right()
ax.set_yticks(y_ticks)
ax.set_yticklabels([f'{t:.2f}' for t in y_ticks])
ax.set_xticks(x_ticks)
ax.set_xticklabels(x_labels)
ax.grid(False, axis='y')
ax.tick_params(axis='y', length=4, width=1, color='black', pad=1.5, labelsize=8, labelcolor='#111111', right=True, left=False)
ax.tick_params(axis='x', length=4, width=1, color='black', pad=6, labelsize=7.9, labelcolor='#111111', bottom=True)
ax.set_xlabel('')
ax.set_ylabel('')
for side in ('left', 'top'):
    ax.spines[side].set_visible(False)
for side in ('right', 'bottom'):
    ax.spines[side].set_visible(True)
    ax.spines[side].set_color('black')
    ax.spines[side].set_linewidth(1.4)

# level names in the right margin
for name, p, c in zip(level_names, level_prices, level_colors):
    ax.text(46.0, p - 0.2, name, color=c, fontsize=10, va='center', ha='left', alpha=0.9, zorder=8)

# flag shaped price markers
flag = blended_transform_factory(fig.transFigure, ax.transData)
half = 8 / 11.02
for p, col, tc in zip(tag_prices, tag_fill, tag_text):
    pts = [(1842 / W, p), (1849 / W, p + half), (1900 / W, p + half), (1900 / W, p - half), (1849 / W, p - half)]
    ax.add_patch(Polygon(pts, closed=True, facecolor=col, edgecolor='#101010', lw=0.6, transform=flag,
                         clip_on=False, zorder=9))
    ax.text(1857 / W, p, f'{p:.2f}', color=tc, fontsize=8, va='center', ha='left', transform=flag,
            clip_on=False, zorder=10)

fig.text(5 / W, 1 - 956 / H, '\u00a9 2020 NinjaTrader, LLC', fontsize=7.7, color='#111111', va='center', zorder=11)
fig.text(4 / W, 1 - 1007 / H, 'ES 12-20', fontsize=6.2, color='#111111', va='center')
fig.text(1825 / W, 1 - 20 / H, '\u2190', fontsize=17, color='black', ha='center', va='center', family='DejaVu Sans', zorder=11)

# logo, bottom right
fig.text(1760 / W, 1 - 1007 / H, 'N I N J A', fontsize=9.5, color='#8C8C8C', va='center')
fig.text(1815 / W, 1 - 1007 / H, 'T R A D E R', fontsize=9.5, color='#8E2F2F', va='center', fontweight='bold')
px = IdentityTransform()
fig.add_artist(Wedge((1747, H - 1007), 7, 90, 280, width=3, facecolor='#8C8C8C', edgecolor='none', transform=px))
fig.add_artist(Wedge((1748, H - 1007), 7, 280, 90, width=3, facecolor='#8E2F2F', edgecolor='none', transform=px))

fig.savefig('out.png', dpi=100, facecolor=BG)
